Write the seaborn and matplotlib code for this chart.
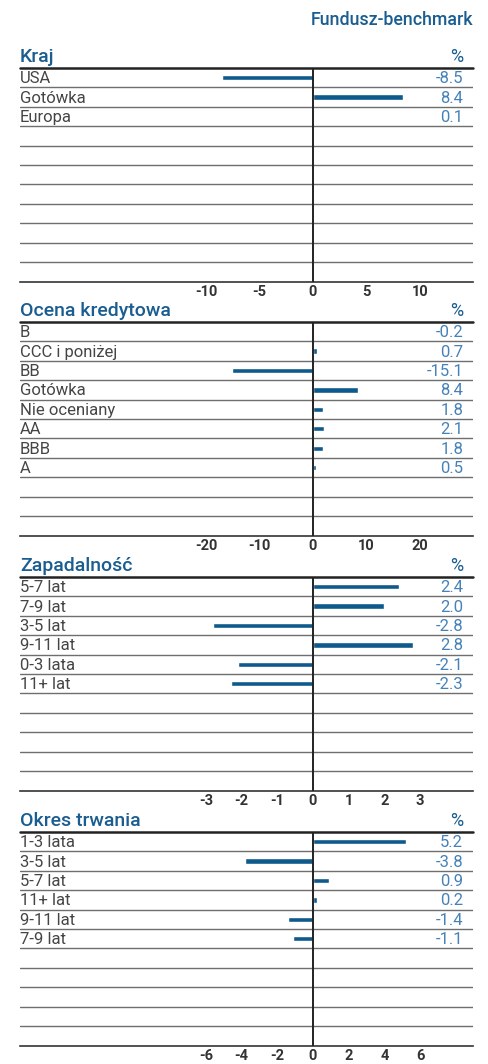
import pandas as pd
from matplotlib import pyplot as plt
import matplotlib.transforms as mtransforms
import seaborn as sns

# data
kraj_labels = ['USA', 'Gotówka', 'Europa']
kraj_values = [-8.5, 8.4, 0.1]

ocena_labels = ['B', 'CCC i poniżej', 'BB', 'Gotówka', 'Nie oceniany', 'AA', 'BBB', 'A']
ocena_values = [-0.2, 0.7, -15.1, 8.4, 1.8, 2.1, 1.8, 0.5]

zapad_labels = ['5-7 lat', '7-9 lat', '3-5 lat', '9-11 lat', '0-3 lata', '11+ lat']
zapad_values = [2.4, 2.0, -2.8, 2.8, -2.1, -2.3]

okres_labels = ['1-3 lata', '3-5 lat', '5-7 lat', '11+ lat', '9-11 lat', '7-9 lat']
okres_values = [5.2, -3.8, 0.9, 0.2, -1.4, -1.1]

kraj_ticks = [-10, -5, 0, 5, 10]
ocena_ticks = [-20, -10, 0, 10, 20]
zapad_ticks = [-3, -2, -1, 0, 1, 2, 3]
okres_ticks = [-6, -4, -2, 0, 2, 4, 6]

panels = [
    ('Kraj', kraj_labels, kraj_values, kraj_ticks),
    ('Ocena kredytowa', ocena_labels, ocena_values, ocena_ticks),
    ('Zapadalność', zapad_labels, zapad_values, zapad_ticks),
    ('Okres trwania', okres_labels, okres_values, okres_ticks),
]

BLUE = '#0f5a8c'
TITLE_BLUE = '#1a5d90'
VAL_BLUE = '#4682b8'
NROWS = 11

sns.set_style('white')
plt.rcParams['font.family'] = ['Roboto', 'DejaVu Sans']
plt.rcParams['axes.unicode_minus'] = False

W, H = 489, 1064
fig = plt.figure(figsize=(W / 100, H / 100), dpi=100)

# pixel tops of each panel (header line); each panel is 11 rows high
tops = [68, 322, 577, 832]
left_px, right_px = 20, 473

fig.text(473 / W, 1 - 20 / H, 'Fundusz-benchmark', ha='right', va='center',
         color=TITLE_BLUE, fontsize=12.8, fontweight='medium')

for (title, labels, values, ticks), top in zip(panels, tops):
    bottom = top + 213.5
    ax = fig.add_axes([left_px / W, 1 - bottom / H, (right_px - left_px) / W, 213.5 / H])
    order = labels + [' ' * (k + 1) for k in range(NROWS - len(labels))]
    df = pd.DataFrame({'label': labels, 'value': values})
    sns.barplot(data=df, x='value', y='label', order=order, orient='h',
                color=BLUE, saturation=1, width=0.27, errorbar=None, ax=ax)
    M = max(ticks)
    ax.set_xlim(-2.738 * M, 1.495 * M)
    ax.set_ylim(NROWS - 0.5, -0.5)
    ax.set_xlabel('')
    ax.set_ylabel('')
    ax.set_yticks([])
    ax.set_xticks(ticks)
    ax.set_xticklabels([str(t) for t in ticks], fontweight='bold', color='#333333')
    ax.tick_params(axis='x', direction='in', length=4, width=1, color='#333333',
                   labelsize=10.5, pad=2.5)
    for s in ['left', 'right', 'top']:
        ax.spines[s].set_visible(False)
    ax.spines['bottom'].set_color('#333333')
    ax.spines['bottom'].set_linewidth(1.2)

    for i in range(NROWS - 1):
        ax.axhline(i + 0.5, color='#6e6e6e', lw=1, zorder=0)
    ax.axhline(-0.5, color='#222222', lw=1.8, clip_on=False)
    ax.axvline(0, color='#222222', lw=1.4, zorder=3)

    trans = mtransforms.blended_transform_factory(ax.transAxes, ax.transData)
    for i, (lab, v) in enumerate(zip(labels, values)):
        ax.text(0, i + 0.05, lab, transform=trans, ha='left', va='center',
                fontsize=12, fontweight='normal', color='#454545')
        ax.text(0.978, i + 0.05, f'{v:.1f}', transform=trans, ha='right', va='center',
                fontsize=12, fontweight='normal', color=VAL_BLUE)

    ax.annotate(title, xy=(0, 1), xycoords='axes fraction', xytext=(0, 1.5),
                textcoords='offset points', ha='left', va='bottom',
                fontsize=14, fontweight='medium', color=TITLE_BLUE)
    ax.annotate('%', xy=(0.978, 1), xycoords='axes fraction', xytext=(0, 1.5),
                textcoords='offset points', ha='right', va='bottom',
                fontsize=13, color=TITLE_BLUE)

plt.savefig('out.png', dpi=100)
plt.close()
